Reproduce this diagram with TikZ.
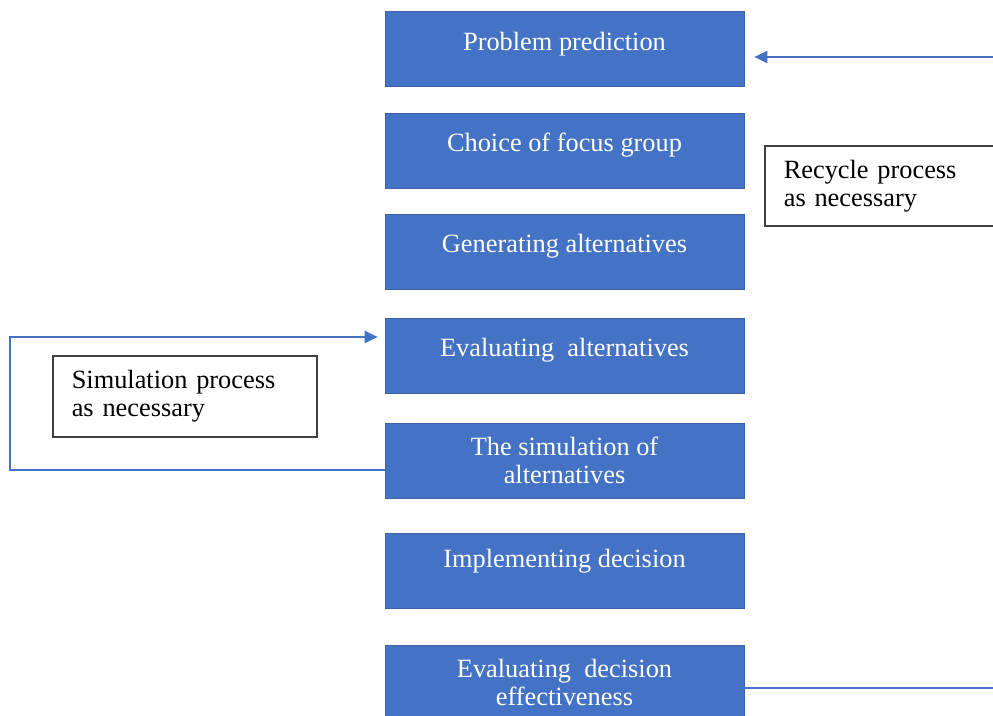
\documentclass[tikz,border=0pt]{standalone}
\usepackage{fontspec}
\setmainfont{Liberation Serif}
\usetikzlibrary{arrows.meta,calc}
\definecolor{boxblue}{HTML}{4472C4}
\definecolor{notegray}{HTML}{404040}
\tikzset{
	stepbox/.style={
			fill=boxblue, draw=boxblue!85!black, line width=0.4pt, text=white,
			minimum width=7.18cm, minimum height=1.5cm, align=center,
			font=\fontsize{15}{16}\selectfont
		},
	oneline/.style={text depth=0.32cm},
	notebox/.style={
			draw=notegray, line width=0.9pt, fill=white, align=left,
			inner xsep=0.38cm, font=\fontsize{15}{16}\selectfont
		},
	flow/.style={draw=boxblue, line width=1.2pt}
}

\begin{document}
\begin{tikzpicture}[x=0.02cm, y=-0.02cm, line cap=butt, line join=miter]
    \path[use as bounding box, clip] (0,0) rectangle (993,716);

    \node[stepbox, oneline] (pred)  at (564.5,49)    {Problem prediction};
    \node[stepbox, oneline] (focus) at (564.5,150.5) {Choice of focus group};
    \node[stepbox, oneline] (gen)   at (564.5,251.5) {Generating alternatives};
    \node[stepbox, oneline] (eval)  at (564.5,355.5) {Evaluating~ alternatives};
    \node[stepbox]          (sim)   at (564.5,460.5) {The simulation of\\alternatives};
    \node[stepbox, oneline, text depth=0.5cm] (impl) at (564.5,570.5) {Implementing decision};
    \node[stepbox]          (eff)   at (564.5,682.5) {Evaluating~ decision\\effectiveness};

    \node[notebox, anchor=north west, minimum width=5cm, minimum height=1.6cm,
          text width=4.24cm] (recyc) at (764,145) {Recycle process\\as necessary};
    \node[notebox, anchor=north west, minimum width=5.28cm, minimum height=1.62cm,
          text width=4.52cm] (simnote) at (52,355) {Simulation process\\as necessary};

    \coordinate (rin)  at (993,57);
    \coordinate (rout) at (993,688);
    \coordinate (lo)   at (10,470);
    \coordinate (hi)   at (10,337);

    \tikzset{arr/.style={flow, -{Triangle[length=0.26cm, width=0.24cm]}}}

    % recycle loop on the right
    \draw[arr, shorten >=0.2cm] (rin) -- (rin -| pred.east);
    \draw[flow] (rout -| eff.east) -- (rout);

    % simulation loop on the left
    \draw[arr, shorten >=0.14cm] (lo -| sim.west) -- (lo) -- (hi) -- (hi -| eval.west);
  \end{tikzpicture}
\end{document}
